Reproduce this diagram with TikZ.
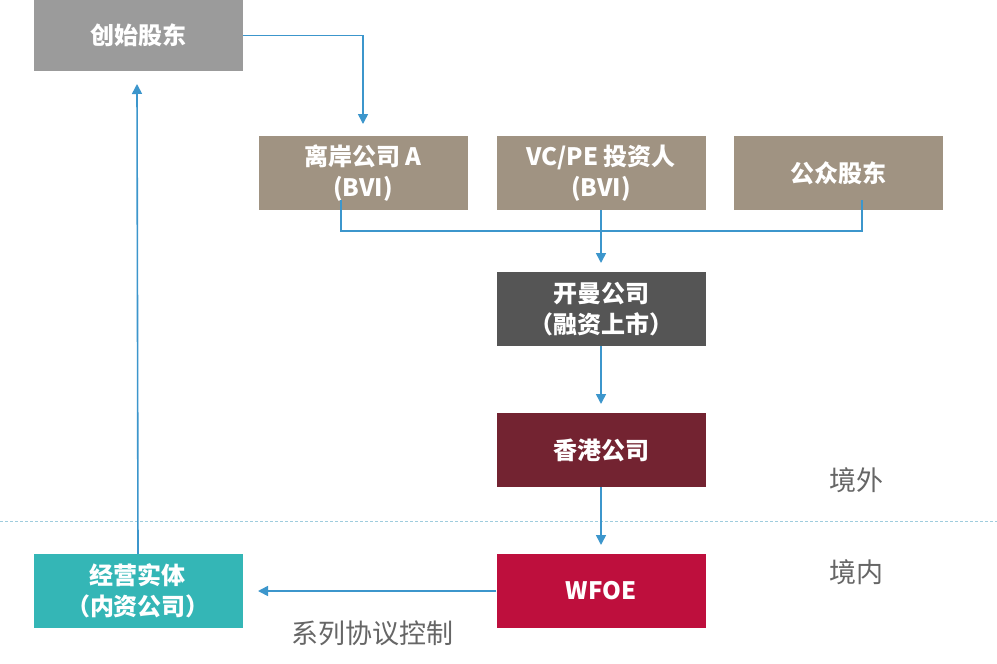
\documentclass[tikz,border=0pt]{standalone}
\usepackage{fontspec}
\setmainfont{Noto Sans CJK SC}
\usetikzlibrary{arrows.meta}
\definecolor{founder}{HTML}{9B9B9B}
\definecolor{taupe}{HTML}{A09382}
\definecolor{cayman}{HTML}{555555}
\definecolor{hk}{HTML}{732331}
\definecolor{wfoe}{HTML}{BE0F3D}
\definecolor{tealbox}{HTML}{34B6B6}
\definecolor{link}{HTML}{3C96CC}
\definecolor{dashcol}{HTML}{9FCCDD}
\definecolor{lbl}{HTML}{666666}
\begin{document}
\begin{tikzpicture}[x=1pt,y=-1pt,
 box/.style={rectangle,inner sep=0pt,minimum width=209pt,minimum height=74pt,text=white,align=center,font=\fontsize{24}{31}\selectfont\bfseries},
 conn/.style={draw=link,line width=1.6pt},
 tip/.style={-{Triangle[length=10pt,width=10pt]}},
 zone/.style={text=lbl,font=\fontsize{27}{32}\selectfont}]
\useasboundingbox (0,0) rectangle (997,664);
\fill[white] (0,0) rectangle (997,664);
\draw[dashcol,line width=1pt,dash pattern=on 3pt off 2pt] (0,521) -- (997,521);

\node[box,fill=founder,minimum height=71pt] (f) at (138.5,35.5) {创始股东};
\node[box,fill=taupe] (l) at (363,173) {离岸公司 A\\(BVI)};
\node[box,fill=taupe] (v) at (601,173) {VC/PE 投资人\\(BVI)};
\node[box,fill=taupe] (p) at (838.5,173) {公众股东};
\node[box,fill=cayman] (c) at (601,309) {开曼公司\\（融资上市）};
\node[box,fill=hk] (h) at (601,450) {香港公司};
\node[box,fill=wfoe] (w) at (601,591) {WFOE};
\node[box,fill=tealbox] (e) at (138,591) {经营实体\\（内资公司）};

\node[zone] (out) at (856,480) {境外};
\node[zone] (in) at (856,572) {境内};
\node[zone,font=\fontsize{27}{32}\selectfont] (ctl) at (372,633) {系列协议控制};

\coordinate (a1) at (363,124);
\coordinate (bl) at (341,200);
\coordinate (br) at (862,200);
\coordinate (bm) at (601,231);
\coordinate (a2) at (601,263);
\coordinate (a3) at (601,404);
\coordinate (a4) at (601,545);
\coordinate (a5) at (258,591);
\coordinate (a6) at (137,84);

\draw[conn,tip] (f.east) -| (a1);
\draw[conn] (bl) |- (bm) -| (br);
\draw[conn,tip] (v.south) -- (a2);
\draw[conn,tip] (c.south) -- (a3);
\draw[conn,tip] (h.south) -- (a4);
\draw[conn,tip] (w.west) -- (a5);
\draw[conn,tip] (e.north) -- (a6);
\end{tikzpicture}
\end{document}
